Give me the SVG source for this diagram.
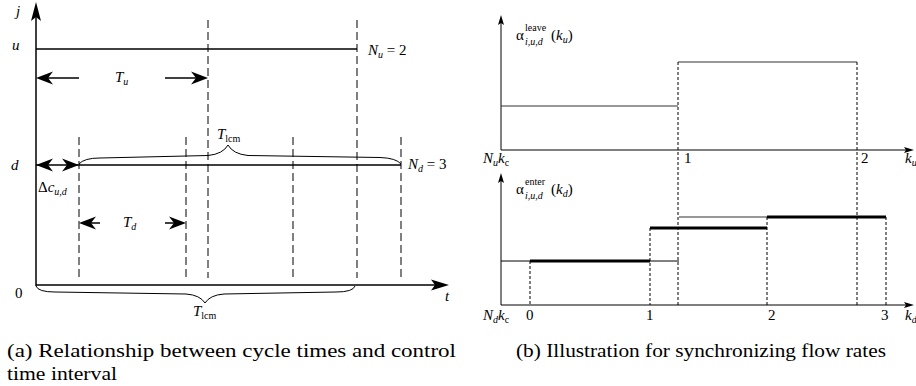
<svg xmlns="http://www.w3.org/2000/svg" width="916" height="386" viewBox="0 0 916 386" font-family="'Liberation Serif', 'Times New Roman', serif">
<style>
text{font-family:"Liberation Serif","Times New Roman",serif;fill:#000}
.l{font-size:15px}
.i{font-style:italic}
.s{font-size:10px}
.cap{font-size:18px}
.ax{stroke:#000;stroke-width:1.5;fill:none}
.thin{stroke:#000;stroke-width:1;fill:none}
.dL{stroke:#000;stroke-width:1;stroke-dasharray:8 4;fill:none}
.dR{stroke:#000;stroke-width:1;stroke-dasharray:3 2;fill:none}
.step{stroke:#333;stroke-width:1.2;fill:none}
.thick{stroke:#000;stroke-width:3;fill:none}
.ah{fill:#000;stroke:none}
</style>
<g id="panel-a">
  <g id="connectors-a">
    <line class="ax" x1="36" y1="286" x2="36" y2="12"/>
    <path class="ah" d="M36,2 L41,21 L36,17 L31,21 Z"/>
    <line class="ax" x1="36" y1="285" x2="440" y2="285"/>
    <path class="ah" d="M449,285 L431,279.5 L435,285 L431,290.5 Z"/>
    <line class="ax" x1="36" y1="49" x2="357" y2="49"/>
    <line class="ax" x1="36" y1="165" x2="401" y2="165"/>
    <line class="dL" x1="208" y1="20" x2="208" y2="278"/>
    <line class="dL" x1="357" y1="20" x2="357" y2="278"/>
    <line class="dL" x1="79" y1="137" x2="79" y2="278"/>
    <line class="dL" x1="186" y1="137" x2="186" y2="278"/>
    <line class="dL" x1="293" y1="137" x2="293" y2="278"/>
    <line class="dL" x1="401" y1="137" x2="401" y2="278"/>
    <line class="ax" x1="45" y1="78" x2="79" y2="78"/>
    <path class="ah" d="M36,78 L53,71.5 L48,78 L53,84.5 Z"/>
    <line class="ax" x1="165" y1="78" x2="199" y2="78"/>
    <path class="ah" d="M208,78 L191,71.5 L196,78 L191,84.5 Z"/>
    <path class="ah" d="M36,165 L53,158.5 L48,165 L53,171.5 Z"/>
    <path class="ah" d="M79,165 L62,158.5 L67,165 L62,171.5 Z"/>
    <line class="ax" x1="86" y1="223" x2="100" y2="223"/>
    <path class="ah" d="M79,223 L96,216.5 L91,223 L96,229.5 Z"/>
    <line class="ax" x1="165" y1="223" x2="178" y2="223"/>
    <path class="ah" d="M186,223 L169,216.5 L174,223 L169,229.5 Z"/>
    <path class="thin" d="M79,164 Q84,158 100,158 L208,155.5 Q223,154 228,145 Q233,154 248,155.5 L380,157.5 Q396,158 401,164"/>
    <path class="thin" d="M36,286 Q38,292 55,292 L186,294 Q200,295 205,303 Q210,295 224,294 L336,292 Q353,292 355,286"/>
  </g>
  <g id="labels-a">
    <text class="l i" x="16" y="16">j</text>
    <text class="l i" x="12" y="50">u</text>
    <text class="l" x="368" y="55"><tspan class="i">N</tspan><tspan class="s i" dy="3">u</tspan><tspan dy="-3"> = 2</tspan></text>
    <text class="l" x="115" y="82"><tspan class="i">T</tspan><tspan class="s i" dy="3">u</tspan></text>
    <text class="l" x="217" y="139"><tspan class="i">T</tspan><tspan class="s" dy="3">lcm</tspan></text>
    <text class="l i" x="11" y="170">d</text>
    <text class="l" x="408" y="169"><tspan class="i">N</tspan><tspan class="s i" dy="3">d</tspan><tspan dy="-3"> = 3</tspan></text>
    <text class="l" x="38" y="192">Δ<tspan class="i">c</tspan><tspan class="s i" dy="3">u,d</tspan></text>
    <text class="l" x="123" y="227"><tspan class="i">T</tspan><tspan class="s i" dy="3">d</tspan></text>
    <text class="l" x="15" y="298">0</text>
    <text class="l i" x="445" y="301">t</text>
    <text class="l" x="193" y="316"><tspan class="i">T</tspan><tspan class="s" dy="3">lcm</tspan></text>
  </g>
  <text id="caption-a1" class="cap" x="7" y="357" textLength="449" lengthAdjust="spacingAndGlyphs">(a)  Relationship between cycle times and control</text>
  <text id="caption-a2" class="cap" x="7" y="380" textLength="110" lengthAdjust="spacingAndGlyphs">time interval</text>
</g>
<g id="panel-b">
  <g id="connectors-b">
    <line class="thin" x1="501" y1="150" x2="501" y2="22"/>
    <path class="ah" d="M501,15 L504,25 L501,23 L498,25 Z"/>
    <line class="thin" x1="501" y1="150" x2="908" y2="150"/>
    <path class="ah" d="M914,150 L904,147 L906,150 L904,153 Z"/>
    <line class="thin" x1="501" y1="305" x2="501" y2="180"/>
    <path class="ah" d="M501,173 L504,183 L501,181 L498,183 Z"/>
    <line class="thin" x1="501" y1="305" x2="908" y2="305"/>
    <path class="ah" d="M914,305 L904,302 L906,305 L904,308 Z"/>
    <line class="step" x1="501" y1="106" x2="678" y2="106"/>
    <line class="step" x1="678" y1="62" x2="857" y2="62"/>
    <line class="dR" x1="678" y1="62" x2="678" y2="305"/>
    <line class="dR" x1="857" y1="62" x2="857" y2="305"/>
    <line class="thin" x1="501" y1="261" x2="679" y2="261"/>
    <line class="step" x1="679" y1="217" x2="767" y2="217"/>
    <line class="thick" x1="530" y1="261" x2="650" y2="261"/>
    <line class="thick" x1="650" y1="228" x2="767" y2="228"/>
    <line class="thick" x1="767" y1="217" x2="886" y2="217"/>
    <line class="dR" x1="530" y1="261" x2="530" y2="305"/>
    <line class="dR" x1="650" y1="228" x2="650" y2="305"/>
    <line class="dR" x1="767" y1="217" x2="767" y2="305"/>
    <line class="dR" x1="886" y1="217" x2="886" y2="305"/>
  </g>
  <g id="labels-b">
    <text class="l" x="516" y="40">α</text>
    <text class="s" x="525" y="31">leave</text>
    <text class="s i" x="525" y="45">i,u,d</text>
    <text class="l" x="551" y="40">(<tspan class="i">k</tspan><tspan class="s i" dy="3">u</tspan><tspan dy="-3">)</tspan></text>
    <text class="l" x="516" y="194">α</text>
    <text class="s" x="525" y="185">enter</text>
    <text class="s i" x="525" y="199">i,u,d</text>
    <text class="l" x="551" y="194">(<tspan class="i">k</tspan><tspan class="s i" dy="3">d</tspan><tspan dy="-3">)</tspan></text>
    <text class="l" x="483" y="163"><tspan class="i">N</tspan><tspan class="s i" dy="3">u</tspan><tspan class="i" dy="-3">k</tspan><tspan class="s" dy="3">c</tspan></text>
    <text class="l" x="684" y="163">1</text>
    <text class="l" x="861" y="163">2</text>
    <text class="l" x="905" y="163"><tspan class="i">k</tspan><tspan class="s i" dy="3">u</tspan></text>
    <text class="l" x="483" y="320"><tspan class="i">N</tspan><tspan class="s i" dy="3">d</tspan><tspan class="i" dy="-3">k</tspan><tspan class="s" dy="3">c</tspan></text>
    <text class="l" x="526" y="320">0</text>
    <text class="l" x="646" y="320">1</text>
    <text class="l" x="768" y="320">2</text>
    <text class="l" x="881" y="320">3</text>
    <text class="l" x="905" y="320"><tspan class="i">k</tspan><tspan class="s i" dy="3">d</tspan></text>
  </g>
  <text id="caption-b" class="cap" x="516" y="357" textLength="370" lengthAdjust="spacingAndGlyphs">(b)  Illustration for synchronizing flow rates</text>
</g>
</svg>
